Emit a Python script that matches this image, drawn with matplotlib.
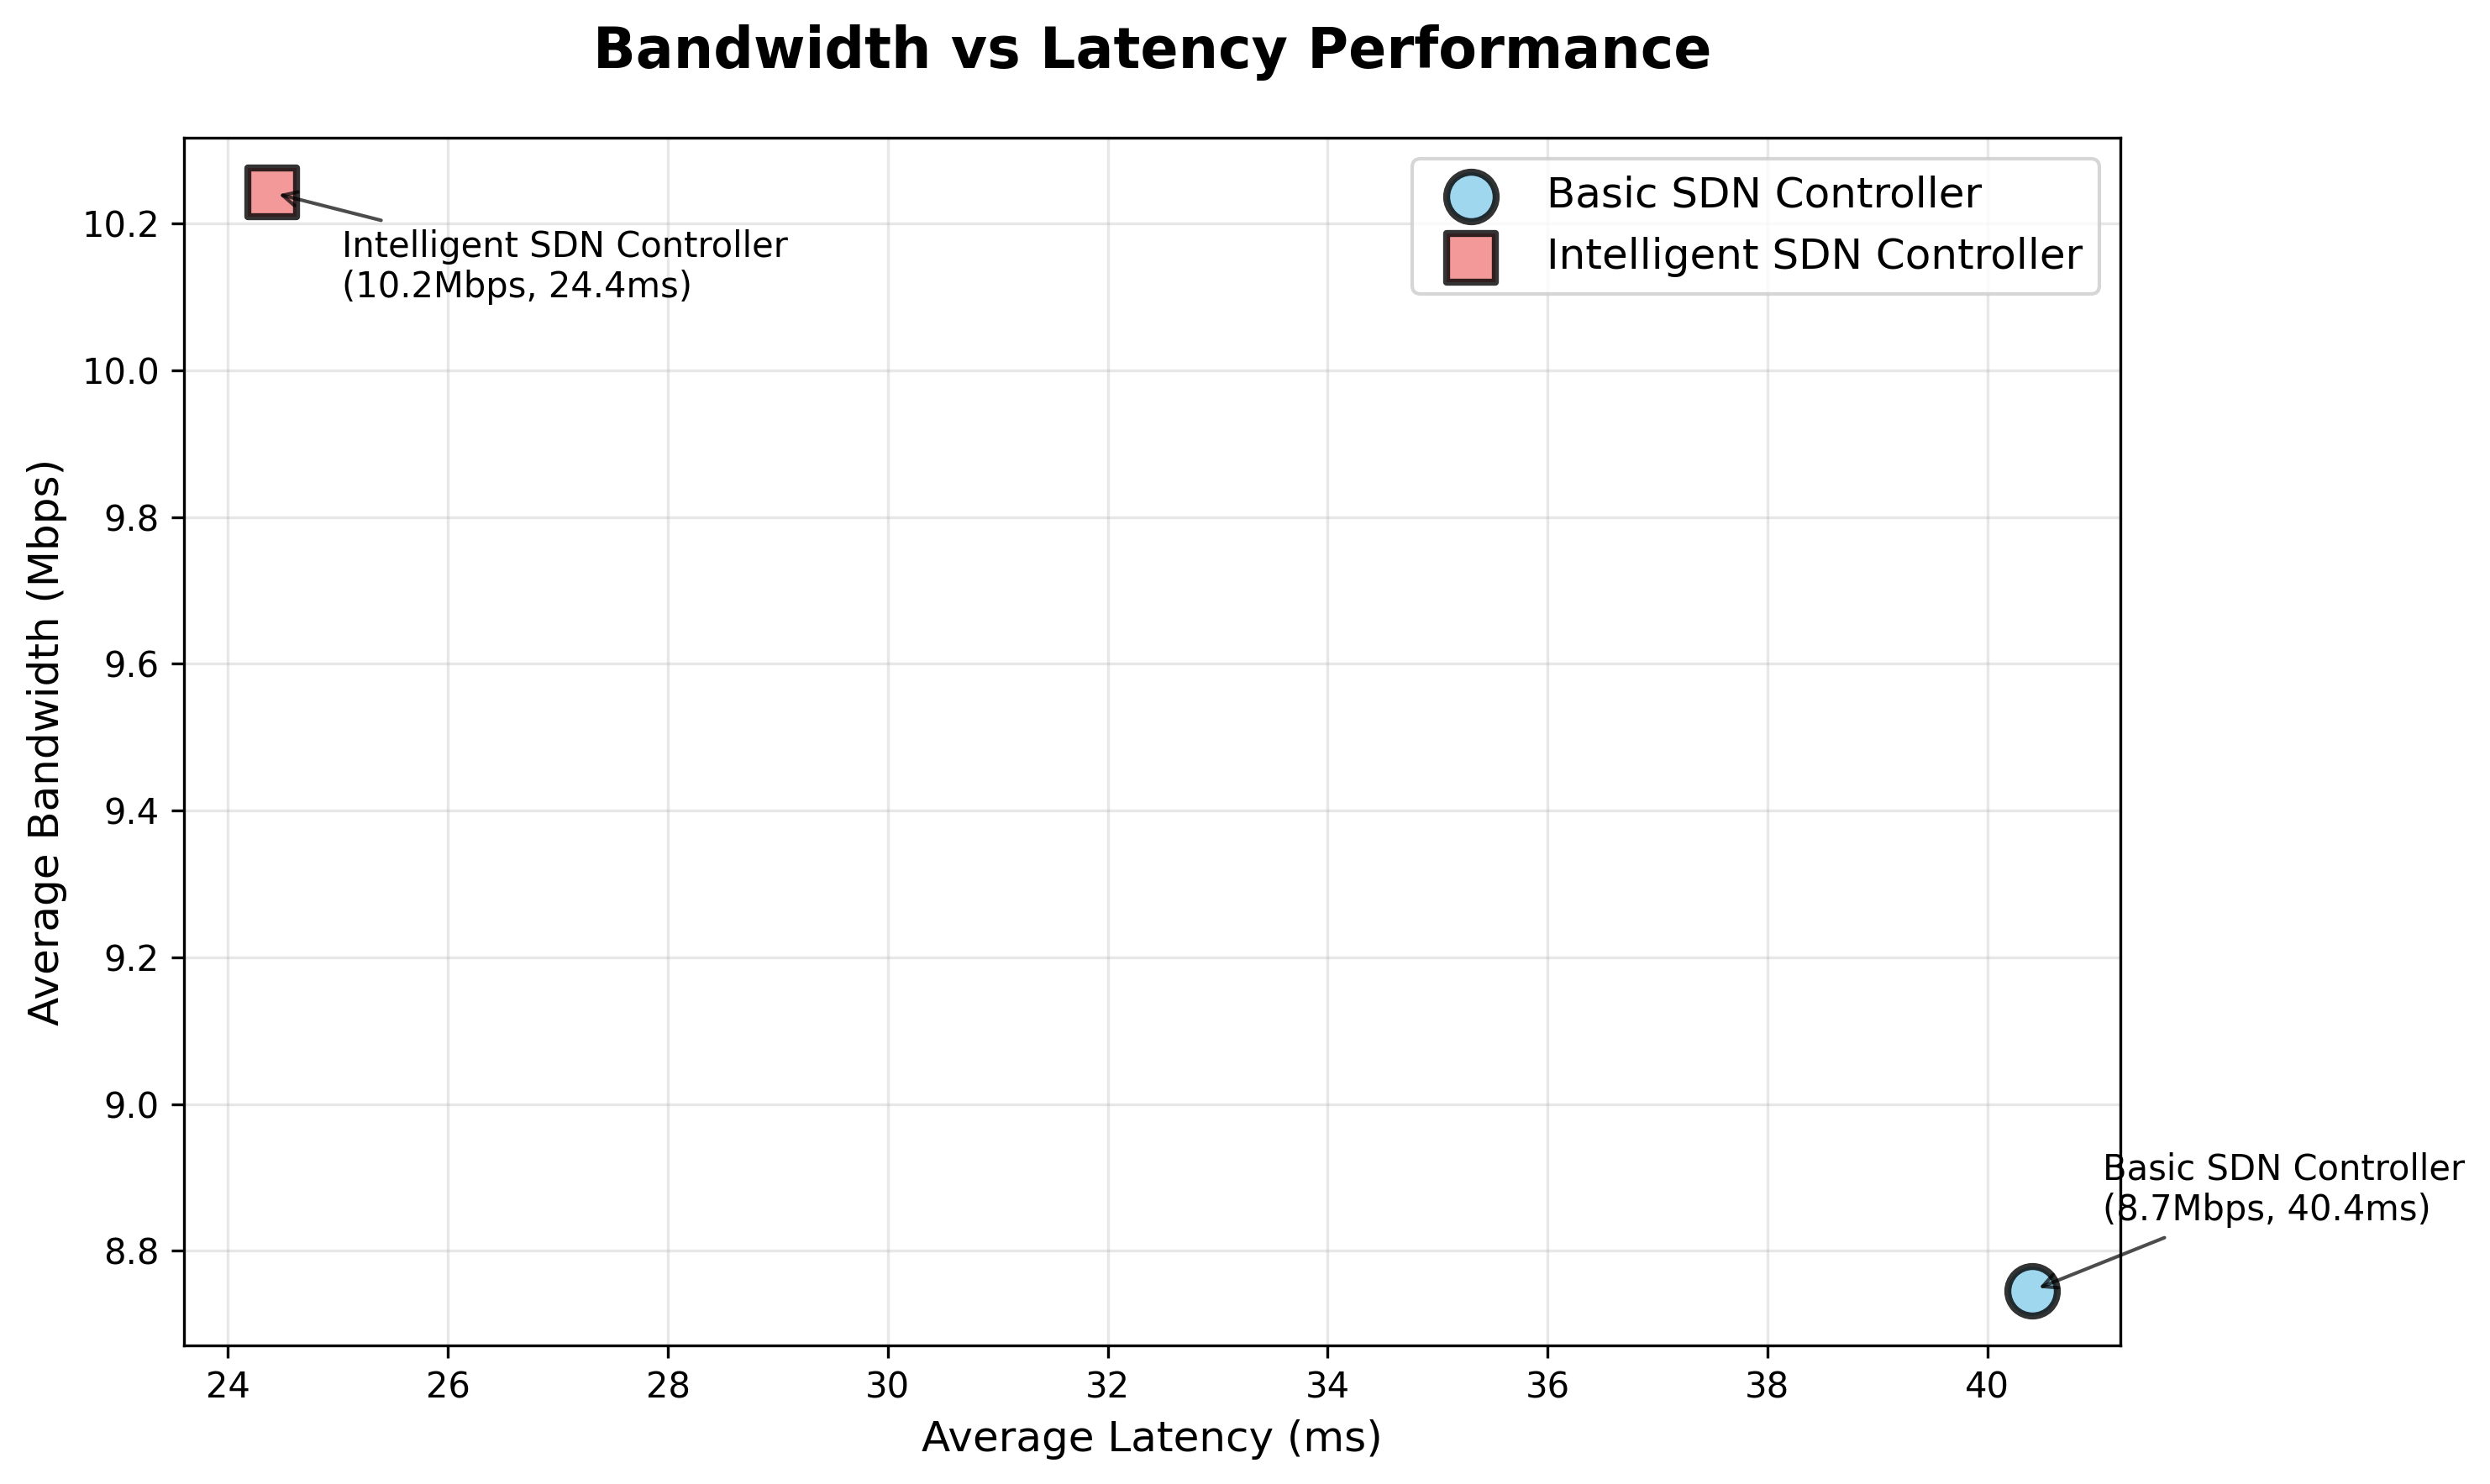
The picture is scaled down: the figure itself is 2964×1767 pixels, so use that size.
import matplotlib
matplotlib.use("Agg")
import matplotlib.pyplot as plt

controllers = ["Basic SDN Controller", "Intelligent SDN Controller"]
latency_ms = [40.41, 24.40]
bandwidth_mbps = [8.746, 10.242]
colors = ["skyblue", "lightcoral"]
markers = ["o", "s"]
text_offsets = [(20, 20), (20, -30)]

fig = plt.figure(figsize=(9.88, 5.89), dpi=300)
ax = fig.add_axes([0.0739, 0.0934, 0.7777, 0.8138])

for name, x, y, c, m, off in zip(controllers, latency_ms, bandwidth_mbps, colors, markers, text_offsets):
    ax.scatter([x], [y], s=200, c=c, marker=m, edgecolors="black", linewidths=2,
               alpha=0.8, label=name, zorder=3)
    ax.annotate(f"{name}\n({y:.1f}Mbps, {x:.1f}ms)", xy=(x, y), xytext=off,
                textcoords="offset points", fontsize=10,
                arrowprops=dict(arrowstyle="->", color="black", alpha=0.7, lw=1))

ax.set_xlabel("Average Latency (ms)", fontsize=12)
ax.set_ylabel("Average Bandwidth (Mbps)", fontsize=12)
ax.set_title("Bandwidth vs Latency Performance", fontsize=16, fontweight="bold", pad=20)
ax.grid(True, alpha=0.3)
ax.legend(loc="upper right", fontsize=12)

fig.savefig("out.png", dpi=300)
